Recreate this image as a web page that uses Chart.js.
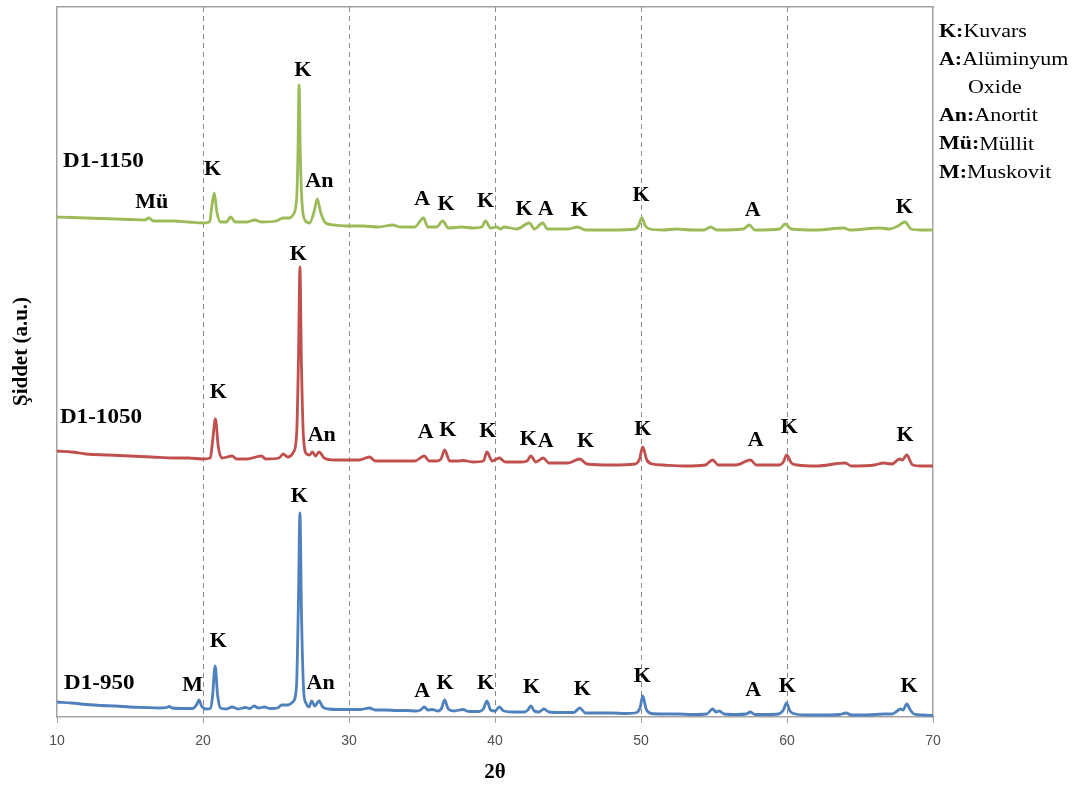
<!DOCTYPE html>
<html>
<head>
<meta charset="utf-8">
<title>XRD – D1 serisi</title>
<script src="https://cdn.jsdelivr.net/npm/chart.js@4.4.0/dist/chart.umd.min.js"></script>
<style>
  html, body { margin: 0; padding: 0; background: #fff; }
  canvas { display: block; }
</style>
</head>
<body>
<canvas id="xrd" width="1076" height="788"></canvas>
<script>
// ---- x axis ticks (2θ, degrees) ----
const thetaTicks = [10, 20, 30, 40, 50, 60, 70];

// ---- D1-950 pattern (stacked intensity, a.u.) ----
const theta950 = [10, 11, 12, 13, 14, 15, 16, 17, 17.5, 17.7, 17.9, 18.5, 19.3, 19.55, 19.72, 19.9, 20.2, 20.5, 20.65, 20.83, 21.0, 21.2, 21.6, 22.0, 22.4, 22.9, 23.2, 23.5, 23.8, 24.2, 24.6, 25.1, 25.4, 25.8, 26.15, 26.4, 26.53, 26.64, 26.75, 26.9, 27.05, 27.25, 27.45, 27.65, 27.95, 28.2, 28.6, 29.3, 30, 30.8, 31.4, 31.8, 32.5, 33.3, 34, 34.6, 34.9, 35.15, 35.4, 35.7, 36.1, 36.35, 36.55, 36.8, 37.2, 37.8, 38.2, 38.9, 39.2, 39.45, 39.7, 40.0, 40.3, 40.6, 41.2, 42.0, 42.25, 42.45, 42.7, 43.0, 43.35, 43.7, 44.5, 45.4, 45.8, 46.2, 47, 48, 49, 49.7, 49.95, 50.12, 50.35, 50.7, 51.5, 52.5, 53.5, 54.5, 54.9, 55.15, 55.35, 55.7, 56.5, 57.2, 57.5, 57.8, 58.5, 59.4, 59.75, 59.97, 60.2, 60.6, 61.5, 62.5, 63.6, 64.05, 64.4, 65.5, 66.6, 67.2, 67.55, 67.75, 67.95, 68.2, 68.45, 68.7, 69.3, 70];
const counts950 = [15, 14, 12.5, 11.5, 11, 10, 9.5, 9, 9.5, 10.5, 9, 8.5, 8.5, 12, 17, 11, 8, 8.5, 20, 51, 22, 9, 8, 10, 8, 9.5, 8.5, 11, 9, 10, 8.5, 9, 12, 12, 15, 30, 110, 204, 100, 25, 14, 10, 16, 11, 16, 10, 8, 7.5, 7.5, 7.5, 9, 7, 7, 6.5, 6.5, 6, 7, 10, 7, 7.5, 6, 9, 17, 8, 6, 7.5, 5.5, 5.5, 8, 16, 7, 6, 10, 6, 5, 5, 7, 11, 6, 5, 8, 5, 4.5, 4.5, 9, 4, 4, 4, 3.5, 4.5, 10, 21, 8, 3.5, 3, 3, 2.5, 3, 8, 5, 6, 3, 2.5, 3, 5, 2.5, 2.5, 3, 7, 14, 6, 3, 2, 2, 2.5, 4, 2, 2, 3, 3, 6, 8, 7, 13, 7, 3, 2, 1.5];

// ---- D1-1050 pattern ----
const theta1050 = [10, 11, 12, 13.5, 15, 16.5, 18, 19, 20, 20.5, 20.65, 20.85, 21.05, 21.3, 22.0, 22.3, 23, 24.0, 24.3, 25.2, 25.5, 25.8, 26.2, 26.42, 26.54, 26.64, 26.74, 26.88, 27.1, 27.3, 27.5, 27.7, 27.95, 28.3, 29, 30, 30.7, 31.4, 31.8, 33, 34.5, 35.15, 35.5, 36.0, 36.3, 36.55, 36.9, 37.5, 37.8, 38.5, 39.2, 39.45, 39.8, 40.3, 40.7, 41.8, 42.2, 42.45, 42.8, 43.3, 43.7, 45.0, 45.8, 46.3, 48, 49.6, 49.9, 50.12, 50.4, 50.8, 51.5, 53, 54.4, 54.9, 55.3, 56.5, 57.5, 57.9, 59.5, 59.75, 59.97, 60.3, 60.7, 62, 64.0, 64.4, 66.0, 66.6, 67.2, 67.7, 67.9, 68.2, 68.6, 69.2, 70];
const counts1050 = [266, 265, 263, 262, 261, 260, 259, 259, 258, 259, 275, 298, 270, 259, 261, 258, 258, 261, 258, 259, 263, 260, 265, 285, 360, 450, 355, 280, 263, 262, 265, 261, 265, 259, 257, 257, 257, 260, 256, 256, 256, 261, 256, 256, 258, 267, 256, 256, 256.5, 255, 256, 265, 256, 259, 255, 255, 256, 261, 255, 259, 254, 254, 258, 253, 252, 253, 258, 270, 257, 253, 252, 251, 252, 257, 252, 252, 257, 252, 252, 255, 262, 254, 252, 251, 254, 251, 252, 254, 253, 258, 257, 262, 252, 251, 251];

// ---- D1-1150 pattern ----
const theta1150 = [10, 11, 12, 13, 14, 15, 16, 16.3, 16.6, 17.5, 18, 19, 20, 20.45, 20.6, 20.77, 20.95, 21.2, 21.6, 21.9, 22.2, 23.0, 23.55, 24, 25.0, 25.5, 25.9, 26.2, 26.42, 26.5, 26.58, 26.67, 26.78, 26.98, 27.3, 27.6, 27.83, 28.05, 28.4, 29, 30, 31, 32, 33.0, 33.5, 34.5, 35.1, 35.4, 36.0, 36.42, 36.8, 37.7, 38.5, 39.1, 39.34, 39.7, 40.1, 40.4, 40.6, 41.5, 42.35, 42.7, 43.26, 43.6, 45.0, 45.66, 46.2, 48, 49.6, 49.85, 50.05, 50.3, 50.6, 51.5, 52.44, 53.5, 54.3, 54.77, 55.2, 57.0, 57.42, 57.8, 59.5, 59.86, 60.3, 62, 63.9, 64.3, 66.4, 67.0, 67.6, 68.08, 68.5, 69.2, 70];
const counts1150 = [500, 499.5, 499, 498.5, 498, 497.5, 497, 499, 496, 496, 496, 495, 494, 495, 510, 524, 505, 495, 495, 500, 495, 495, 497, 495, 496, 499, 499, 503, 520, 560, 632, 560, 515, 497, 494, 505, 518, 505, 494, 492, 491, 491, 490, 492, 490, 490, 499, 490, 490, 496, 489, 490, 489, 490, 496, 489, 490, 488, 490, 488, 494, 488, 494, 488, 488, 490, 487, 487, 488, 492, 499, 491, 488, 487, 488, 487, 487, 490, 487, 488, 492, 487, 488, 493, 488, 487, 489, 487, 489, 488, 491, 495, 488, 487, 487];

// ---- sample names, drawn at the left of each trace ----
const sampleNames = ['D1-1150', 'D1-1050', 'D1-950'];
const sampleNameTheta = [10.41, 10.2, 10.48];
const sampleNameLevel = [555, 299, 33];

// ---- phase letters above the reflections ----
const peakText1150 = ['Mü', 'K', 'K', 'An', 'A', 'K', 'K', 'K', 'A', 'K', 'K', 'A', 'K'];
const peakTheta1150 = [16.49, 20.66, 26.83, 27.97, 35.02, 36.64, 39.36, 41.99, 43.47, 45.77, 50.0, 57.65, 68.03];
const peakLevel1150 = [514, 547, 646, 535, 517, 512, 515, 507, 507, 506, 521, 506, 509];

const peakText1050 = ['K', 'K', 'An', 'A', 'K', 'K', 'K', 'A', 'K', 'K', 'A', 'K', 'K'];
const peakTheta1050 = [21.05, 26.53, 28.13, 35.25, 36.76, 39.5, 42.28, 43.47, 46.21, 50.12, 57.86, 60.16, 68.08];
const peakLevel1050 = [324, 462, 281, 284, 286, 285, 277, 275, 275, 287, 276, 289, 281];

const peakText950 = ['M', 'K', 'K', 'An', 'A', 'K', 'K', 'K', 'K', 'K', 'A', 'K', 'K'];
const peakTheta950 = [19.29, 21.05, 26.6, 28.06, 35.02, 36.58, 39.36, 42.51, 45.98, 50.09, 57.69, 60.02, 68.36];
const peakLevel950 = [31, 75, 220, 33, 25, 33, 33, 29, 27, 40, 26, 30, 30];

// ---- phase key ----
const phaseSymbols = ['K:', 'A:', '', 'An:', 'Mü:', 'M:'];
const phaseNames = ['Kuvars', 'Alüminyum', 'Oxide', 'Anortit', 'Müllit', 'Muskovit'];

const SERIF = '"Liberation Serif", "Times New Roman", serif';
const FRAME = '#a3a3a3';

function toPoints(xs, ys) {
  return xs.map((t, i) => ({ x: t, y: ys[i] }));
}

// text drawn slightly widened, like the original typesetting
function drawWide(ctx, text, px, py, font, sx, align) {
  ctx.save();
  ctx.translate(px, py);
  ctx.scale(sx, 1);
  ctx.font = font;
  ctx.textAlign = align;
  ctx.textBaseline = 'middle';
  ctx.fillText(text, 0, 0);
  ctx.restore();
}

const annotationPlugin = {
  id: 'xrdAnnotations',
  afterDatasetsDraw(chart) {
    const { ctx, scales: { x, y }, chartArea } = chart;
    ctx.save();
    ctx.fillStyle = '#000';

    const sets = [
      [peakText1150, peakTheta1150, peakLevel1150],
      [peakText1050, peakTheta1050, peakLevel1050],
      [peakText950, peakTheta950, peakLevel950]
    ];
    sets.forEach(([texts, thetas, levels]) => {
      texts.forEach((t, i) => {
        drawWide(ctx, t, x.getPixelForValue(thetas[i]), y.getPixelForValue(levels[i]),
          'bold 20px ' + SERIF, 1.1, 'center');
      });
    });

    sampleNames.forEach((name, i) => {
      drawWide(ctx, name, x.getPixelForValue(sampleNameTheta[i]), y.getPixelForValue(sampleNameLevel[i]),
        'bold 21px ' + SERIF, 1.1, 'left');
    });

    // phase key to the right of the frame
    const keyX = chartArea.right + 6;
    phaseSymbols.forEach((sym, i) => {
      const py = 32 + 28.2 * i;
      ctx.save();
      ctx.translate(sym ? keyX : keyX + 29, py);
      ctx.scale(1.22, 1);
      ctx.textBaseline = 'middle';
      ctx.textAlign = 'left';
      let off = 0;
      if (sym) {
        ctx.font = 'bold 18px ' + SERIF;
        ctx.fillText(sym, 0, 0);
        off = ctx.measureText(sym).width;
      }
      ctx.font = '18px ' + SERIF;
      ctx.fillText(phaseNames[i], off, 0);
      ctx.restore();
    });
    ctx.restore();
  }
};

const lineStyle = {
  borderWidth: 2.8,
  pointRadius: 0,
  fill: false,
  cubicInterpolationMode: 'monotone'
};

new Chart(document.getElementById('xrd'), {
  type: 'line',
  data: {
    datasets: [
      Object.assign({ label: 'D1-1150', data: toPoints(theta1150, counts1150), borderColor: '#9bbb59' }, lineStyle),
      Object.assign({ label: 'D1-1050', data: toPoints(theta1050, counts1050), borderColor: '#c0504d' }, lineStyle),
      Object.assign({ label: 'D1-950', data: toPoints(theta950, counts950), borderColor: '#4f81bd' }, lineStyle)
    ]
  },
  options: {
    responsive: false,
    animation: false,
    parsing: false,
    layout: { padding: { top: 7, right: 143, left: 0, bottom: 0 } },
    plugins: {
      legend: { display: false },
      tooltip: { enabled: false }
    },
    scales: {
      x: {
        type: 'linear',
        position: 'bottom',
        min: 10,
        max: 70,
        afterBuildTicks: s => { s.ticks = thetaTicks.map(v => ({ value: v })); },
        afterFit: s => { s.height = 71; },
        ticks: {
          color: '#505050',
          font: { family: '"Liberation Sans", Arial, sans-serif', size: 14 },
          padding: 10,
          maxRotation: 0
        },
        grid: {
          display: true,
          drawOnChartArea: true,
          drawTicks: true,
          tickLength: 6,
          tickColor: FRAME,
          tickWidth: 1,
          lineWidth: 1,
          color: c => (c.tick && (c.tick.value === 10 || c.tick.value === 70)) ? 'rgba(0,0,0,0)' : '#8a8a8a'
        },
        border: { display: true, color: FRAME, width: 1.5, dash: [5, 4] },
        title: {
          display: true,
          text: '2θ',
          color: '#000',
          font: { family: SERIF, size: 21, weight: 'bold' },
          padding: { top: 0, bottom: 3 }
        }
      },
      x2: {
        type: 'linear',
        position: 'top',
        min: 10,
        max: 70,
        ticks: { display: false },
        grid: { display: false, drawTicks: false },
        border: { display: true, color: FRAME, width: 1.5 },
        afterFit: s => { s.height = 0; }
      },
      y: {
        type: 'linear',
        position: 'left',
        min: 0,
        max: 710,
        ticks: { display: false },
        grid: { display: false, drawTicks: false },
        border: { display: true, color: FRAME, width: 1.5 },
        afterFit: s => { s.width = 57; },
        title: {
          display: true,
          text: '    Şiddet (a.u.)',
          color: '#000',
          font: { family: SERIF, size: 21, weight: 'bold' },
          padding: { top: 9, bottom: 0 }
        }
      },
      y2: {
        type: 'linear',
        position: 'right',
        min: 0,
        max: 710,
        ticks: { display: false },
        grid: { display: false, drawTicks: false },
        border: { display: true, color: FRAME, width: 1.5 },
        afterFit: s => { s.width = 0; }
      }
    }
  },
  plugins: [annotationPlugin]
});
</script>
</body>
</html>
